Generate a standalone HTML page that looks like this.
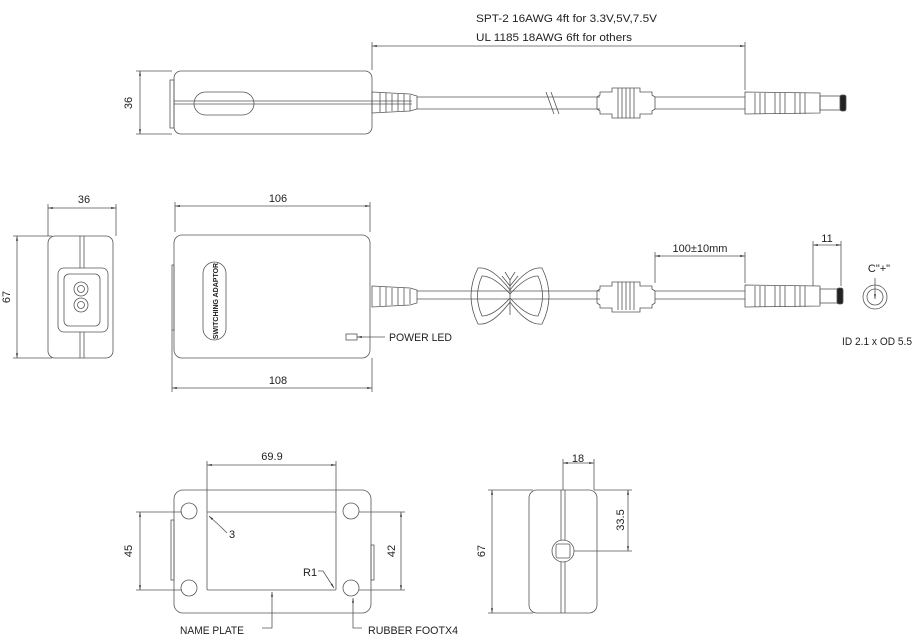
<!DOCTYPE html>
<html><head><meta charset="utf-8"><style>
html,body{margin:0;padding:0;background:#fff;}
svg{display:block;}
text{font-family:"Liberation Sans",sans-serif;font-size:11px;fill:#222;}
</style></head><body>
<svg width="922" height="642" viewBox="0 0 922 642" xmlns="http://www.w3.org/2000/svg">
<defs>
<marker id="a" viewBox="0 0 10 10" refX="10" refY="5" markerWidth="6" markerHeight="6" orient="auto-start-reverse"><path d="M0,3 L10,5 L0,7z" fill="#333"/></marker>
</defs>
<g fill="none" stroke="#555" stroke-width="0.8">
<!-- TOP VIEW -->
<rect x="174" y="71" width="198" height="63" rx="7"/>
<rect x="170" y="80" width="4" height="48"/>
<line x1="174" y1="101" x2="372" y2="101"/><line x1="174" y1="104" x2="372" y2="104"/>
<rect x="194" y="92" width="60" height="23" rx="11.5"/>
<line x1="140" y1="71" x2="140" y2="134" marker-start="url(#a)" marker-end="url(#a)"/>
<line x1="136" y1="71" x2="172" y2="71"/><line x1="136" y1="134" x2="172" y2="134"/>
<line x1="372" y1="46" x2="745" y2="46" marker-start="url(#a)" marker-end="url(#a)"/>
<line x1="372" y1="42" x2="372" y2="70"/><line x1="745" y1="42" x2="745" y2="90"/>
<path d="M372,92 L410,94 L417,96 L417,109 L410,111 L372,113z"/>
<path d="M380,93v19M386,93v19M392,94v17M398,94v17M404,94v17M410,95v16"/>
<path d="M372,101h40M372,104h40"/>
<path d="M417,97 H600 M417,109 H600 M655,97 H745 M655,109 H745"/>
<path d="M546,92 l8,22 M551,92 l8,22"/>
<path d="M600,92 h12 v-4 h28 v4 h12 v3 l3,2 v12 l-3,2 v3 h-12 v4 h-28 v-4 h-12 v-3 l-3,-2 v-12 l3,-2z"/>
<path d="M618,88v30M622,88v30M626,88v30M630,88v30M634,88v30"/>
<path d="M745,92 L820,93 L820,113 L745,114z"/>
<path d="M755,93v21M760,93v21M765,93v21M775,93v21M780,93v21M785,93v21M795,93v21M800,93v21M805,93v21"/>
<rect x="820" y="96" width="22" height="14"/>
<rect x="840" y="95" width="6" height="16" fill="#222" rx="2"/>

<!-- END VIEW -->
<rect x="48" y="236" width="65" height="122" rx="7"/>
<line x1="80" y1="236" x2="80" y2="358"/><line x1="84" y1="236" x2="84" y2="358"/>
<rect x="58" y="268" width="50" height="64" rx="6" fill="#fff"/>
<rect x="64" y="274" width="36" height="52" rx="5"/>
<circle cx="81" cy="289" r="7"/><circle cx="81" cy="289" r="3.5"/>
<circle cx="81" cy="305" r="7"/><circle cx="81" cy="305" r="3.5"/>
<line x1="48" y1="208" x2="116" y2="208" marker-start="url(#a)" marker-end="url(#a)"/>
<line x1="48" y1="204" x2="48" y2="236"/><line x1="116" y1="204" x2="116" y2="236"/>
<line x1="17" y1="236" x2="17" y2="358" marker-start="url(#a)" marker-end="url(#a)"/>
<line x1="13" y1="236" x2="52" y2="236"/><line x1="13" y1="358" x2="52" y2="358"/>

<!-- MAIN VIEW -->
<rect x="174" y="235" width="196" height="123" rx="8"/>
<rect x="172" y="265" width="2" height="65"/>
<rect x="203" y="262" width="23" height="78" rx="11.5"/>
<line x1="175" y1="206" x2="370" y2="206" marker-start="url(#a)" marker-end="url(#a)"/>
<line x1="175" y1="202" x2="175" y2="232"/><line x1="370" y1="202" x2="370" y2="232"/>
<line x1="172" y1="388" x2="372" y2="388" marker-start="url(#a)" marker-end="url(#a)"/>
<line x1="172" y1="330" x2="172" y2="392"/><line x1="372" y1="358" x2="372" y2="392"/>
<rect x="346" y="334" width="11" height="6"/>
<line x1="385" y1="337" x2="357" y2="337" marker-end="url(#a)"/>
<path d="M372,286 L410,288 L417,290 L417,303 L410,305 L372,307z"/>
<path d="M380,287v19M386,287v19M392,288v17M398,288v17M404,288v17M410,289v15"/>
<path d="M417,291 H600 M417,299 H600 M655,291 H745 M655,299 H745"/>
<path d="M478,268 Q492,266 510,290 Q528,266 542,268 Q556,296 542,324 Q528,326 510,302 Q492,326 478,324 Q464,296 478,268z"/>
<path d="M482,276 Q494,276 510,294 Q526,276 538,276 Q547,296 538,316 Q526,316 510,298 Q494,316 482,316 Q473,296 482,276z"/>
<path d="M505,272 l5,8 l5,-8 M502,276 l8,10 l8,-10 M510,280 v35"/>
<path d="M600,286 h12 v-4 h28 v4 h12 v3 l3,2 v12 l-3,2 v3 h-12 v4 h-28 v-4 h-12 v-3 l-3,-2 v-12 l3,-2z"/>
<path d="M618,282v28M622,282v28M626,282v28M630,282v28M634,282v28"/>
<path d="M745,285 L820,286 L820,306 L745,307z"/>
<path d="M755,286v21M760,286v21M765,286v21M775,286v21M780,286v21M785,286v21M795,286v21M800,286v21M805,286v21"/>
<rect x="820" y="289" width="22" height="14"/>
<rect x="837" y="288" width="6" height="16" fill="#222" rx="2"/>
<line x1="655" y1="256" x2="745" y2="256" marker-start="url(#a)" marker-end="url(#a)"/>
<line x1="655" y1="252" x2="655" y2="283"/><line x1="745" y1="252" x2="745" y2="283"/>
<line x1="813" y1="245" x2="841" y2="245" marker-start="url(#a)" marker-end="url(#a)"/>
<line x1="813" y1="241" x2="813" y2="286"/><line x1="841" y1="241" x2="841" y2="286"/>
<circle cx="875" cy="297" r="12"/><circle cx="875" cy="297" r="8"/>
<line x1="875" y1="278" x2="875" y2="299" marker-end="url(#a)"/>

<!-- BOTTOM VIEW -->
<rect x="174" y="490" width="197" height="123" rx="9"/>
<rect x="171" y="520" width="3" height="60"/><rect x="371" y="545" width="3" height="35"/>
<circle cx="189" cy="511" r="8"/><circle cx="351" cy="511" r="8"/>
<circle cx="189" cy="588" r="8"/><circle cx="351" cy="588" r="8"/>
<rect x="207" y="512" width="129" height="78" rx="1"/>
<line x1="207" y1="465" x2="336" y2="465" marker-start="url(#a)" marker-end="url(#a)"/>
<line x1="207" y1="461" x2="207" y2="512"/><line x1="336" y1="461" x2="336" y2="512"/>
<line x1="140" y1="512" x2="140" y2="590" marker-start="url(#a)" marker-end="url(#a)"/>
<line x1="136" y1="512" x2="182" y2="512"/><line x1="136" y1="590" x2="182" y2="590"/>
<line x1="401" y1="512" x2="401" y2="590" marker-start="url(#a)" marker-end="url(#a)"/>
<line x1="359" y1="512" x2="405" y2="512"/><line x1="359" y1="590" x2="405" y2="590"/>
<path d="M227,533 L221,527 L209,516" marker-end="url(#a)"/>
<path d="M318,571 L323,571 L334,588" marker-end="url(#a)"/>
<path d="M262,628 H272 V592" marker-end="url(#a)"/>
<path d="M362,628 H353 V598" marker-end="url(#a)"/>

<!-- SIDE BOTTOM -->
<rect x="529" y="490" width="68" height="123" rx="8"/>
<line x1="561" y1="490" x2="561" y2="613"/><line x1="565" y1="490" x2="565" y2="613"/>
<circle cx="563" cy="551" r="11" fill="#fff"/>
<rect x="556" y="544" width="14" height="14" rx="2"/>
<line x1="563" y1="463" x2="594" y2="463" marker-start="url(#a)" marker-end="url(#a)"/>
<line x1="563" y1="459" x2="563" y2="490"/><line x1="594" y1="459" x2="594" y2="490"/>
<line x1="492" y1="490" x2="492" y2="613" marker-start="url(#a)" marker-end="url(#a)"/>
<line x1="488" y1="490" x2="533" y2="490"/><line x1="488" y1="613" x2="533" y2="613"/>
<line x1="628" y1="490" x2="628" y2="551" marker-start="url(#a)" marker-end="url(#a)"/>
<line x1="594" y1="490" x2="632" y2="490"/><line x1="574" y1="551" x2="632" y2="551"/>
</g>

<g>
<text x="476" y="22" textLength="181" lengthAdjust="spacingAndGlyphs">SPT-2 16AWG 4ft for 3.3V,5V,7.5V</text>
<text x="476" y="41" textLength="156" lengthAdjust="spacingAndGlyphs">UL 1185 18AWG 6ft for others</text>
<text transform="translate(132,103) rotate(-90)" text-anchor="middle">36</text>
<text x="84" y="203" text-anchor="middle">36</text>
<text transform="translate(10,297) rotate(-90)" text-anchor="middle">67</text>
<text x="278" y="202" text-anchor="middle">106</text>
<text x="278" y="384" text-anchor="middle">108</text>
<text transform="translate(218,301) rotate(-90)" text-anchor="middle" style="font-size:7px;font-weight:bold">SWITCHING ADAPTOR</text>
<text x="389" y="341" textLength="63" lengthAdjust="spacingAndGlyphs">POWER LED</text>
<text x="700" y="252" text-anchor="middle">100±10mm</text>
<text x="827" y="242" text-anchor="middle">11</text>
<text x="879" y="272" text-anchor="middle">C"+"</text>
<text x="842" y="345" textLength="70" lengthAdjust="spacingAndGlyphs">ID 2.1 x OD 5.5</text>
<text x="272" y="460" text-anchor="middle">69.9</text>
<text transform="translate(132,551) rotate(-90)" text-anchor="middle">45</text>
<text transform="translate(395,551) rotate(-90)" text-anchor="middle">42</text>
<text x="229" y="538">3</text>
<text x="303" y="576">R1</text>
<text x="180" y="634" textLength="64" lengthAdjust="spacingAndGlyphs">NAME PLATE</text>
<text x="368" y="634" textLength="90" lengthAdjust="spacingAndGlyphs">RUBBER FOOTX4</text>
<text x="578" y="462" text-anchor="middle">18</text>
<text transform="translate(485,551) rotate(-90)" text-anchor="middle">67</text>
<text transform="translate(624,520) rotate(-90)" text-anchor="middle">33.5</text>
</g>
</svg>
</body></html>
